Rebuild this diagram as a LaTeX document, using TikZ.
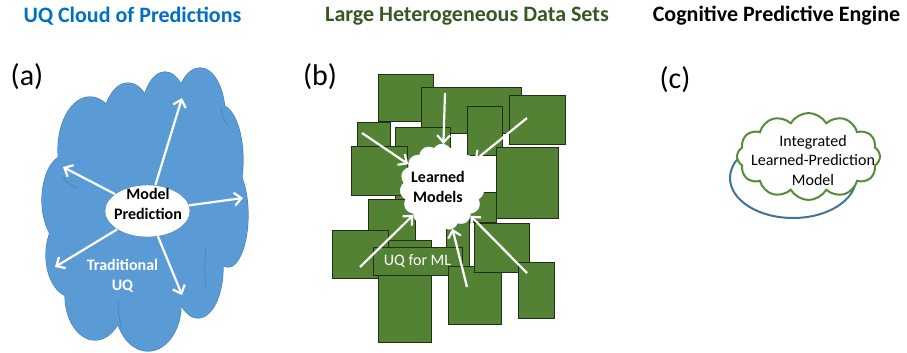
\documentclass[tikz,border=0pt]{standalone}
\usepackage{fontspec}
\setmainfont{Carlito}
\usetikzlibrary{positioning,shapes.geometric,shapes.symbols,arrows.meta}
\definecolor{titleblue}{RGB}{0,112,192}
\definecolor{titlegreen}{RGB}{56,87,35}
\definecolor{uqblue}{RGB}{91,155,213}
\definecolor{uqedge}{RGB}{72,128,182}
\definecolor{setgreen}{RGB}{84,130,53}
\definecolor{setedge}{RGB}{32,48,22}
\definecolor{cloudgreen}{RGB}{84,140,55}
\definecolor{ringblue}{RGB}{65,113,156}

\begin{document}
\begin{tikzpicture}[x=1pt,y=-1pt,
    title/.style={font=\fontsize{22}{26}\selectfont\bfseries, inner sep=0pt},
    panel/.style={font=\fontsize{30}{34}\selectfont, inner sep=0pt},
    body/.style={font=\fontsize{16}{19.5}\selectfont, align=center, inner sep=0pt},
    bodybold/.style={body, font=\fontsize{16}{20}\selectfont\bfseries},
    dataset/.style={fill=setgreen, draw=setedge, line width=0.8pt},
    wharrow/.style={draw=white, line width=2.2pt, -{Straight Barb[length=7pt,width=13pt]}},
  ]
\useasboundingbox (0,0) rectangle (907,353);

% titles and panel letters
\node[title, text=titleblue] (ta) at (132.5,16) {UQ Cloud of Predictions};
\node[title, text=titlegreen] (tb) at (467,16) {Large Heterogeneous Data Sets};
\node[title] (tc) at (776.5,16) {Cognitive Predictive Engine};
\node[panel] (pa) at (27,77) {(a)};
\node[panel] (pb) at (320,77) {(b)};
\node[panel] (pc) at (675,80) {(c)};

% (a) cloud of predictions: outline of all puffs, then fill over
\foreach \cx/\cy/\rx/\ry in {90/150/32/53, 128/130/26/47, 165/120/24/48, 200/115/25/47,
    220/160/23/55, 228/215/20/52, 198/268/25/50, 148/305/33/46,
    95/295/30/45, 72/255/26/42, 66/200/24/45}
  \draw[uqedge, line width=1.2pt] (\cx,\cy) ellipse [x radius=\rx pt, y radius=\ry pt];
\fill[uqblue] (145,210) ellipse [x radius=80pt, y radius=100pt];
\foreach \cx/\cy/\rx/\ry in {90/150/32/53, 128/130/26/47, 165/120/24/48, 200/115/25/47,
    220/160/23/55, 228/215/20/52, 198/268/25/50, 148/305/33/46,
    95/295/30/45, 72/255/26/42, 66/200/24/45}
  \fill[uqblue] (\cx,\cy) ellipse [x radius=\rx pt, y radius=\ry pt];
% a few inner seams
\draw[uqedge, line width=0.6pt] (63,176) arc[start angle=200, end angle=250, x radius=24pt, y radius=20pt];
\draw[uqedge, line width=0.6pt] (221,108) arc[start angle=190, end angle=230, x radius=20pt, y radius=30pt];
\draw[uqedge, line width=0.6pt] (206,248) arc[start angle=160, end angle=200, x radius=20pt, y radius=60pt];
\draw[uqedge, line width=0.6pt] (118,300) arc[start angle=180, end angle=215, x radius=20pt, y radius=50pt];
\node[ellipse, fill=white, draw=uqedge, minimum width=85pt, minimum height=52pt] (mp) at (147.5,211) {};
\node[bodybold] (mptext) at (148,204) {Model\\Prediction};
\node[bodybold, text=white] (trad) at (122.5,276) {Traditional\\UQ};
\coordinate (a1) at (182,98);
\coordinate (a2) at (63,167);
\coordinate (a3) at (243,198);
\coordinate (a4) at (55,267);
\coordinate (a5) at (182,295);
\foreach \t in {a1,a2,a3,a4,a5}
  \draw[wharrow] (mp) -- (\t);

% (b) data sets
\foreach \xa/\ya/\xb/\yb in {378/74/433/121, 421/87/521/133, 467/106/502/155, 509/95/565/144,
    357/122/390/152, 395/127/450/200, 351/146/407/195, 496/147/558/218,
    440/192/496/222, 446/205/469/266, 368/199/415/245, 385/240/431/262, 332/230/388/278}
  \draw[dataset] (\xa,\ya) rectangle (\xb,\yb);
\node[dataset, body, text=white, minimum width=89pt, minimum height=28pt] (uqml) at (417.5,261) {UQ for ML};
\foreach \xa/\ya/\xb/\yb in {378/275/431/342, 448/266/501/324, 474/223/529/272, 518/262/554/318}
  \draw[dataset] (\xa,\ya) rectangle (\xb,\yb);
\node[cloud, cloud puffs=15, cloud puff arc=120, aspect=1, fill=white, draw=white,
  minimum width=84pt, minimum height=86pt] (lm) at (442,187) {};
\node[bodybold] (lmtext) at (438,187) {Learned\\Models};
\coordinate (b1) at (362,133);
\coordinate (b2) at (445,93);
\coordinate (b3) at (527,118);
\coordinate (b4) at (360,267);
\coordinate (b5) at (467,287);
\coordinate (b6) at (527,273);
\foreach \s in {b1,b2,b3,b4,b5,b6}
  \draw[wharrow] (\s) -- (lm);

% (c) predictive engine
\node[ellipse, draw=ringblue, line width=2pt, minimum width=126pt, minimum height=80pt] (ring) at (793,178) {};
\node[cloud, cloud puffs=12, cloud puff arc=120, fill=white, draw=cloudgreen, line width=2pt,
  minimum width=143pt, minimum height=87pt] (ilp) at (808.5,156.5) {};
\node[body] (ilptext) at (813,160) {Integrated\\Learned-Prediction\\Model};
\end{tikzpicture}
\end{document}
